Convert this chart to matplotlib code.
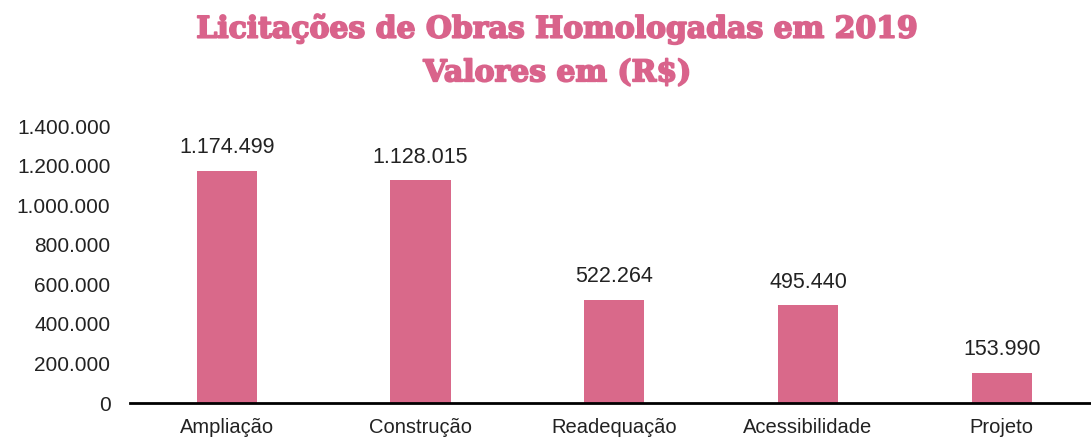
import matplotlib
matplotlib.use("Agg")
import matplotlib.pyplot as plt
import matplotlib.patheffects as pe
from matplotlib.ticker import FuncFormatter

categorias = ["Ampliação", "Construção", "Readequação", "Acessibilidade", "Projeto"]
valores = [1174499, 1128015, 522264, 495440, 153990]
yticks = [0, 200000, 400000, 600000, 800000, 1000000, 1200000, 1400000]

ROSA = "#d9698a"
TITULO = "#d9638b"


def fmt_br(v, _pos=None):
    # separador de milhar no padrão brasileiro
    return f"{int(v):,}".replace(",", ".")


fig = plt.figure(figsize=(10.91, 4.41), dpi=100)
ax = fig.add_axes([0.119, 0.086, 0.888, 0.628])

x = range(len(categorias))
bars = ax.bar(x, valores, width=0.31, color=ROSA, zorder=2)

for b, v in zip(bars, valores):
    ax.text(b.get_x() + b.get_width() / 2, v + 62000, fmt_br(v),
            ha="center", va="bottom", fontsize=15.5, color="#222222",
            family="Liberation Sans")

ax.set_xlim(-0.5, len(categorias) - 0.5)
ax.set_ylim(0, 1400000)
ax.set_yticks(yticks)
ax.yaxis.set_major_formatter(FuncFormatter(fmt_br))
ax.set_xticks(list(x))
ax.set_xticklabels(categorias)
ax.tick_params(axis="both", length=0, labelsize=15.5, colors="#222222")
ax.tick_params(axis="y", labelsize=15, pad=14)
ax.tick_params(axis="x", labelsize=14.5, pad=11)
for lbl in ax.get_xticklabels() + ax.get_yticklabels():
    lbl.set_family("Liberation Sans")

for s in ["top", "right", "left"]:
    ax.spines[s].set_visible(False)
ax.spines["bottom"].set_linewidth(2)
ax.spines["bottom"].set_color("black")

# título em negrito reforçado com contorno da mesma cor
grosso = [pe.withStroke(linewidth=1.3, foreground=TITULO)]
fig.text(0.511, 0.935, "Licitações de Obras Homologadas em 2019",
         ha="center", va="center", fontsize=21.5, fontweight="bold",
         family="DejaVu Serif", color=TITULO, path_effects=grosso)
fig.text(0.511, 0.835, "Valores em (R$)",
         ha="center", va="center", fontsize=21.5, fontweight="bold",
         family="DejaVu Serif", color=TITULO, path_effects=grosso)

fig.savefig("out.png", dpi=100)
